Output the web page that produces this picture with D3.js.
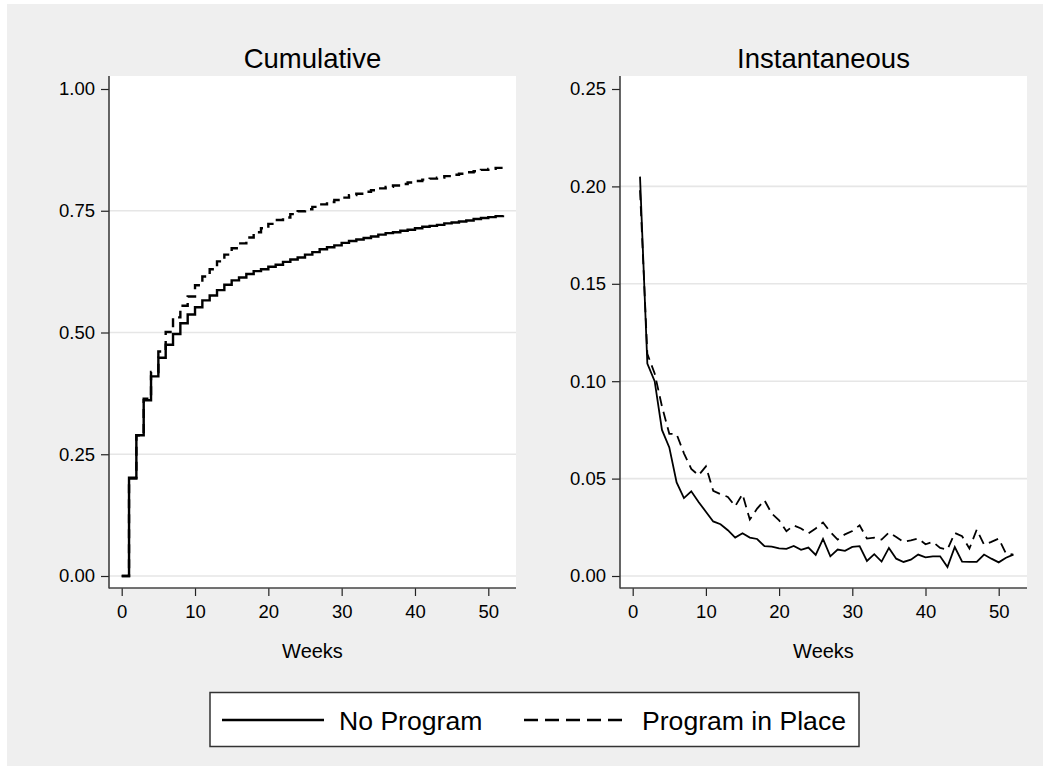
<!DOCTYPE html>
<html>
<head>
<meta charset="utf-8">
<script src="https://cdn.jsdelivr.net/npm/d3@7/dist/d3.min.js"></script>
<style>
  html, body { margin: 0; padding: 0; background: #ffffff; }
  svg { display: block; }
  text { font-family: "Liberation Sans", Arial, Helvetica, sans-serif; fill: #000; }
</style>
</head>
<body>
<svg id="chart" width="1050" height="770"></svg>
<script>
// ---------------- DATA ----------------
const panelTitles = ["Cumulative", "Instantaneous"];
const xAxisTitle = "Weeks";
const seriesNames = ["No Program", "Program in Place"];

const cumWeeks = [0,1,2,3,4,5,6,7,8,9,10,11,12,13,14,15,16,17,18,19,20,21,22,23,24,25,26,
                  27,28,29,30,31,32,33,34,35,36,37,38,39,40,41,42,43,44,45,46,47,48,49,50,51,52];
const cumNoProgram = [0,0.202,0.289,0.361,0.410,0.448,0.475,0.497,0.519,0.537,0.552,0.566,0.576,
                      0.587,0.598,0.607,0.613,0.620,0.626,0.630,0.635,0.639,0.645,0.650,0.654,0.660,0.665,
                      0.671,0.675,0.679,0.684,0.688,0.691,0.694,0.697,0.701,0.704,0.706,0.709,0.711,
                      0.714,0.717,0.719,0.721,0.724,0.726,0.728,0.730,0.733,0.735,0.737,0.739,0.741];
const cumProgram   = [0,0.200,0.289,0.364,0.419,0.461,0.501,0.531,0.555,0.574,0.597,0.615,0.630,
                      0.646,0.660,0.673,0.683,0.695,0.706,0.714,0.723,0.731,0.736,0.743,0.749,0.753,0.758,
                      0.763,0.768,0.772,0.777,0.782,0.785,0.789,0.792,0.796,0.799,0.802,0.805,0.808,
                      0.811,0.814,0.816,0.818,0.821,0.824,0.826,0.829,0.831,0.834,0.836,0.838,0.840];

const hazWeeks = [1,2,3,4,5,6,7,8,9,10,11,12,13,14,15,16,17,18,19,20,21,22,23,24,25,26,
                  27,28,29,30,31,32,33,34,35,36,37,38,39,40,41,42,43,44,45,46,47,48,49,50,51,52];
const hazNoProgram = [0.205,0.109,0.100,0.075,0.066,0.048,0.040,0.0435,0.038,0.033,0.028,0.0266,0.0235,
                      0.0197,0.0219,0.0197,0.019,0.0153,0.0151,0.0142,0.0139,0.0154,0.0134,0.0146,0.0108,0.019,
                      0.0101,0.0136,0.0129,0.0149,0.0153,0.0077,0.0112,0.0074,0.0144,0.0089,0.0072,0.0084,0.011,
                      0.0096,0.0101,0.0101,0.0046,0.0149,0.0074,0.0072,0.0072,0.011,0.0089,0.007,0.0094,0.011];
const hazProgram   = [0.198,0.114,0.104,0.087,0.073,0.0728,0.063,0.055,0.0517,0.0563,0.0437,0.042,0.0406,
                      0.0358,0.042,0.029,0.0346,0.0389,0.032,0.0286,0.023,0.026,0.0244,0.0218,0.0244,0.0275,
                      0.0226,0.0187,0.0214,0.0231,0.026,0.0192,0.0197,0.0187,0.0223,0.02,0.0175,0.0183,0.0192,
                      0.0163,0.0175,0.0144,0.0136,0.0221,0.0204,0.0141,0.0238,0.0161,0.0175,0.0192,0.0115,0.011];

const xTicks = [0,10,20,30,40,50];
const cumTicks = [0,0.25,0.5,0.75,1];
const hazTicks = [0,0.05,0.1,0.15,0.2,0.25];

// ---------------- LAYOUT ----------------
const svg = d3.select("#chart");
svg.append("rect").attr("x",7).attr("y",4).attr("width",1036).attr("height",762).attr("fill","#efefef");

const panels = [
  { title: panelTitles[0], left: 109, right: 516, x0: 121.7, x50: 488.3, ticks: cumTicks,
    weeks: cumWeeks, s1: cumNoProgram, s2: cumProgram, curve: d3.curveStepAfter, lw: 2.4, dash: "9,6" },
  { title: panelTitles[1], left: 620, right: 1027, x0: 632.7, x50: 998.7, ticks: hazTicks,
    weeks: hazWeeks, s1: hazNoProgram, s2: hazProgram, curve: d3.curveLinear, lw: 1.8, dash: "10,6" }
];
const plotTop = 76, plotBottom = 588;

panels.forEach(p => {
  const g = svg.append("g");
  const x = d3.scaleLinear().domain([0,50]).range([p.x0, p.x50]);
  const yMax = p.ticks[p.ticks.length-1];
  const y = d3.scaleLinear().domain([0, yMax]).range([576, 89]);

  g.append("rect").attr("x",p.left).attr("y",plotTop).attr("width",p.right-p.left).attr("height",plotBottom-plotTop).attr("fill","#fff");

  // gridlines (all but top tick)
  g.selectAll("line.grid").data(p.ticks.slice(0,-1)).enter().append("line")
    .attr("x1",p.left).attr("x2",p.right)
    .attr("y1",d=>y(d)).attr("y2",d=>y(d))
    .attr("stroke","#e6e6e6").attr("stroke-width",1.6);

  // y axis
  const ya = g.append("g").attr("transform",`translate(${p.left},0)`)
    .call(d3.axisLeft(y).tickValues(p.ticks).tickFormat(d3.format(".2f")).tickSize(8).tickPadding(6));
  ya.select(".domain").remove();
  ya.selectAll(".tick line").attr("stroke","#222").attr("stroke-width",1.2);
  ya.selectAll(".tick text").style("font-size","18.5px").style("font-family","'Liberation Sans', Arial, sans-serif").attr("fill","#000");

  // x axis
  const xa = g.append("g").attr("transform",`translate(0,${plotBottom})`)
    .call(d3.axisBottom(x).tickValues(xTicks).tickFormat(d3.format("d")).tickSize(8).tickPadding(9));
  xa.select(".domain").remove();
  xa.selectAll(".tick line").attr("stroke","#222").attr("stroke-width",1.2);
  xa.selectAll(".tick text").style("font-size","18.5px").style("font-family","'Liberation Sans', Arial, sans-serif").attr("fill","#000");

  // axis lines
  g.append("line").attr("x1",p.left).attr("x2",p.left).attr("y1",plotTop).attr("y2",plotBottom+0.5)
    .attr("stroke","#333").attr("stroke-width",1.5);
  g.append("line").attr("x1",p.left).attr("x2",p.right).attr("y1",plotBottom).attr("y2",plotBottom)
    .attr("stroke","#444").attr("stroke-width",1.5);

  // lines
  const line = d3.line().curve(p.curve).x((d,i)=>x(p.weeks[i])).y(d=>y(d));
  g.append("path").datum(p.s2).attr("d",line).attr("fill","none").attr("stroke","#000")
    .attr("stroke-width",p.lw).attr("stroke-dasharray",p.dash).attr("stroke-linejoin","miter");
  g.append("path").datum(p.s1).attr("d",line).attr("fill","none").attr("stroke","#000")
    .attr("stroke-width",p.lw).attr("stroke-linejoin","miter");

  // titles
  const cx = (p.left+p.right)/2;
  g.append("text").attr("x",cx).attr("y",68).attr("text-anchor","middle")
    .style("font-size","27.5px").text(p.title);
  g.append("text").attr("x",cx).attr("y",658).attr("text-anchor","middle")
    .style("font-size","20px").text(xAxisTitle);
});

// legend
const lg = svg.append("g");
lg.append("rect").attr("x",210).attr("y",692.5).attr("width",649).attr("height",54)
  .attr("fill","#fff").attr("stroke","#333").attr("stroke-width",1.5);
lg.append("line").attr("x1",222).attr("x2",324).attr("y1",720).attr("y2",720)
  .attr("stroke","#000").attr("stroke-width",2.4);
lg.append("text").attr("x",339).attr("y",720).attr("dy","0.36em").style("font-size","26.6px").text(seriesNames[0]);
lg.append("line").attr("x1",524).attr("x2",626).attr("y1",720).attr("y2",720)
  .attr("stroke","#000").attr("stroke-width",2.4).attr("stroke-dasharray","14,7");
lg.append("text").attr("x",642).attr("y",720).attr("dy","0.36em").style("font-size","26.6px").text(seriesNames[1]);
</script>
</body>
</html>
